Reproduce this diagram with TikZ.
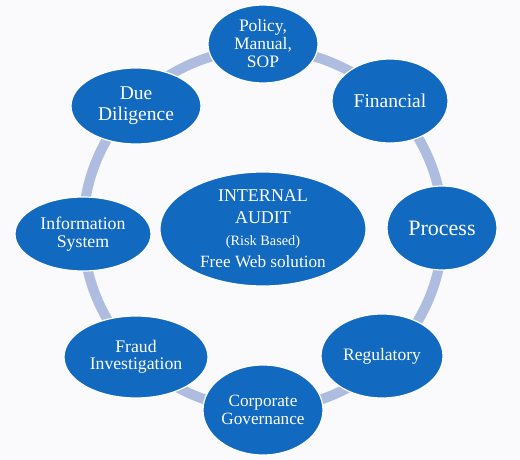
\documentclass[tikz,border=0pt]{standalone}
\usepackage{fontspec}
\setmainfont{Liberation Serif}
\usepackage{tikz}
\usetikzlibrary{shapes.geometric}

\begin{document}
\begin{tikzpicture}[x=1pt, y=1pt, every node/.style={ellipse, inner sep=0pt, align=center}] % 1pt = 1px of the slide
        % Define the colors
        \definecolor{bubble}{HTML}{1269C0}
        \definecolor{ring}{HTML}{AEBCE0}
        \definecolor{paper}{HTML}{FAFAFC}
        \tikzset{blob/.style={fill=bubble, draw=white, line width=1.2pt, text=white}}

        % Background, also fixes the size of the page
        \fill[paper] (0,0) rectangle (520,-460);

        % The ring behind the bubbles
        \coordinate (Hub) at (263,-229);
        \draw[ring, line width=10pt] (Hub) circle [radius=180pt];

        % Draw the bubbles round the ring
        \node[blob, minimum width=110pt, minimum height=78pt, font=\fontsize{17.5}{18}\selectfont] (Policy) at (263,-44) {Policy,\\ Manual,\\ SOP};
        \node[blob, minimum width=116pt, minimum height=84pt, font=\fontsize{19.5}{21}\selectfont] (Financial) at (390,-101) {Financial};
        \node[blob, minimum width=110pt, minimum height=84pt, font=\fontsize{22}{24}\selectfont] (Process) at (442,-228) {Process};
        \node[blob, minimum width=122pt, minimum height=84pt, font=\fontsize{17.5}{19}\selectfont] (Regulatory) at (382,-356) {Regulatory};
        \node[blob, minimum width=120pt, minimum height=90pt, font=\fontsize{17.2}{18.5}\selectfont] (CorpGov) at (263,-410) {Corporate\\ Governance};
        \node[blob, minimum width=144pt, minimum height=82pt, font=\fontsize{17.7}{17.5}\selectfont] (Fraud) at (136,-357) {Fraud\\ Investigation};
        \node[blob, minimum width=136pt, minimum height=74pt, font=\fontsize{17.8}{18}\selectfont] (InfoSys) at (83,-234) {Information\\ System};
        \node[blob, minimum width=130pt, minimum height=76pt, font=\fontsize{19.5}{21}\selectfont] (DueDil) at (136,-106) {Due\\ Diligence};

        % Draw the center bubble
        \node[blob, minimum width=206pt, minimum height=114pt] (Audit) at (Hub) {};
        \node[text=white, font=\fontsize{18}{22}\selectfont] (AuditText) at (Audit.center) {INTERNAL\\ AUDIT\\ {\fontsize{14.3}{16}\selectfont(Risk Based)}\\ {\fontsize{17.2}{20}\selectfont Free Web solution}};

    \end{tikzpicture}
\end{document}
